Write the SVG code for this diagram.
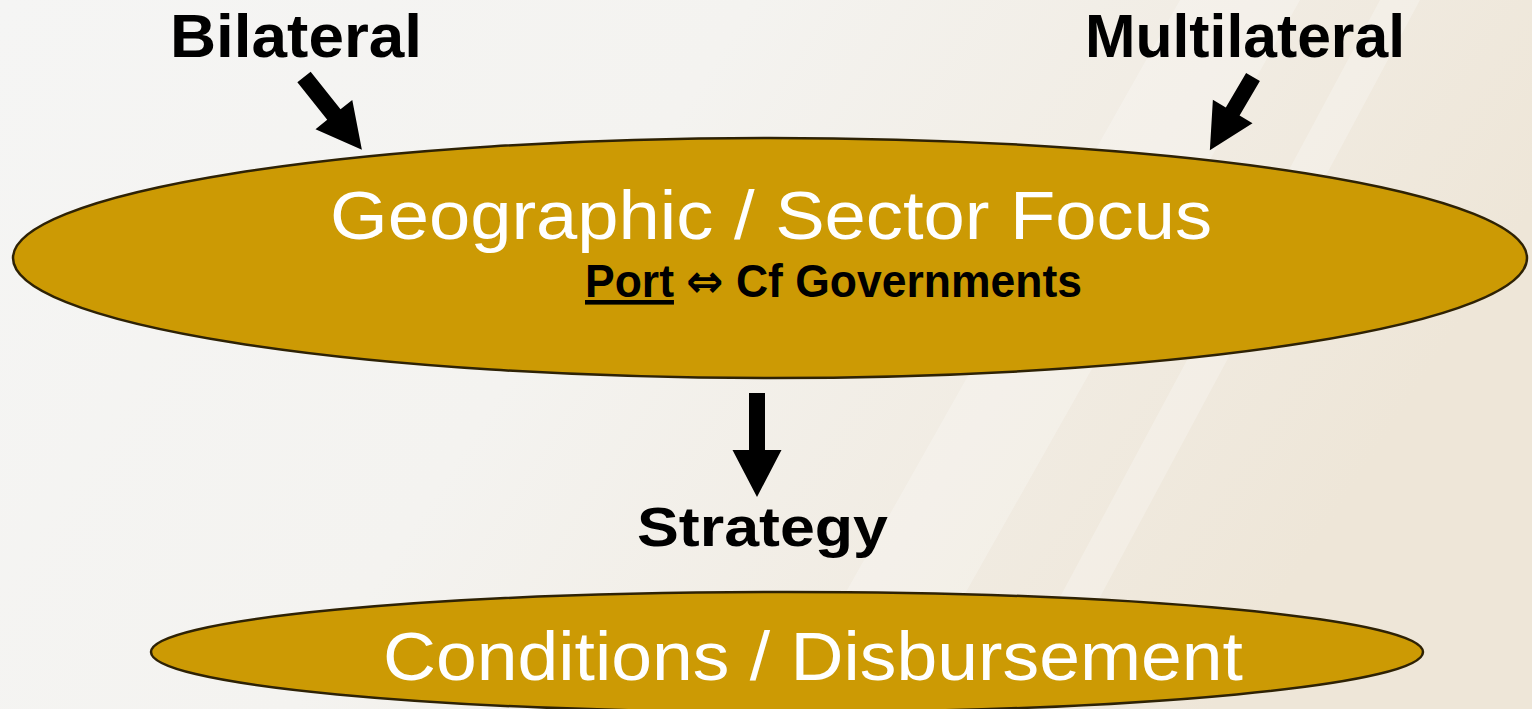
<svg xmlns="http://www.w3.org/2000/svg" width="1532" height="709" viewBox="0 0 1532 709">
<defs>
<linearGradient id="bg" x1="0" y1="0" x2="1" y2="0.3">
<stop offset="0" stop-color="#f5f5f4"/>
<stop offset="0.45" stop-color="#f4f3f0"/>
<stop offset="0.75" stop-color="#f1ece3"/>
<stop offset="1" stop-color="#eee6d8"/>
</linearGradient>
<style>
.ell{fill:#cc9a04;stroke:#2e2205;stroke-width:2.5}
.big{font-family:"Liberation Sans",Arial,sans-serif;font-size:68px;fill:#ffffff;text-anchor:middle}
.lbl{font-family:"Liberation Sans",Arial,sans-serif;font-weight:bold;fill:#000000}
.arr{fill:#000000}
</style>
</defs>
<rect x="0" y="0" width="1532" height="709" fill="url(#bg)"/>
<g opacity="0.25" fill="#ffffff">
<polygon points="1180,0 1300,0 900,709 780,709"/>
<polygon points="1380,0 1420,0 1040,709 1000,709"/>
</g>
<g id="connectors">
<path class="arr" d="M0,-8.5 L48,-8.5 L48,-23.5 L93,0 L48,23.5 L48,8.5 L0,8.5 Z" transform="translate(304,77) rotate(51.5)"/>
<path class="arr" d="M0,-8 L40,-8 L40,-23 L85,0 L40,23 L40,8 L0,8 Z" transform="translate(1253,77) rotate(120.5)"/>
<path class="arr" d="M749,393 L765,393 L765,450 L781.5,450 L757,497 L732.5,450 L749,450 Z"/>
</g>
<g id="bilateral">
<text class="lbl" x="170" y="57" font-size="62" textLength="252" lengthAdjust="spacingAndGlyphs">Bilateral</text>
</g>
<g id="multilateral">
<text class="lbl" x="1085" y="57" font-size="62" textLength="320" lengthAdjust="spacingAndGlyphs">Multilateral</text>
</g>
<g id="focus">
<ellipse class="ell" cx="770" cy="258" rx="757" ry="120"/>
<text class="big" x="771" y="239" textLength="882" lengthAdjust="spacingAndGlyphs">Geographic / Sector Focus</text>
<text class="lbl" x="585" y="297" font-size="46" textLength="497" lengthAdjust="spacingAndGlyphs"><tspan text-decoration="underline">Port</tspan> <tspan font-family="'DejaVu Sans',sans-serif">⇔</tspan> Cf Governments</text>
</g>
<g id="strategy">
<text class="lbl" x="637" y="546" font-size="56" textLength="251" lengthAdjust="spacingAndGlyphs">Strategy</text>
</g>
<g id="conditions">
<ellipse class="ell" cx="787" cy="652" rx="636" ry="60"/>
<text class="big" x="813" y="680" textLength="860" lengthAdjust="spacingAndGlyphs">Conditions / Disbursement</text>
</g>
</svg>
